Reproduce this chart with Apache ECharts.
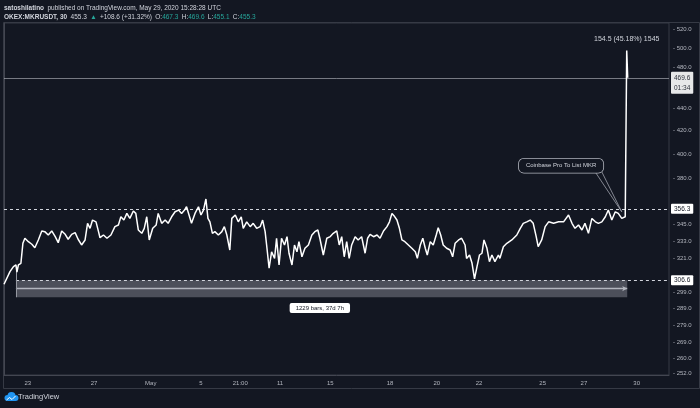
<!DOCTYPE html>
<html><head><meta charset="utf-8">
<script src="https://cdn.jsdelivr.net/npm/echarts/dist/echarts.min.js"></script>
<style>html,body{margin:0;padding:0;background:#131722;}#c{width:700px;height:408px;}</style>
</head><body><div id="c"></div>
<script>
// ---- data (30-minute bars, OKEX:MKRUSDT) ----
const barIndex = [0,12,19,24,26,29,34,38,42,49,56,62,69,76,82,89,96,103,109,116,123,129,136,143,149,156,163,168,173,178,185,190,193,200,207,215,223,230,235,241,247,253,260,265,270,277,282,287,292,299,306,310,317,324,330,337,344,351,357,363,367,372,377,384,391,396,401,406,410,414,419,424,431,438,443,448,454,458,465,471,477,481,488,495,501,508,515,520,525,528,533,538,544,548,553,558,564,569,573,579,584,589,593,599,605,612,619,625,631,635,642,649,656,662,669,674,679,684,689,694,699,706,712,719,726,731,736,743,750,756,763,770,775,780,784,790,795,800,806,813,820,827,831,837,842,847,851,857,863,869,873,878,883,890,897,902,907,914,920,927,930,936,941,946,951,956,961,965,971,976,981,987,994,997,1004,1011,1021,1031,1038,1044,1051,1058,1064,1070,1074,1081,1088,1095,1105,1115,1125,1135,1142,1148,1155,1162,1168,1175,1182,1189,1195,1202,1209,1215,1222,1229,1235,1242,1249,1252,1254];
const price = [304.0,312.2,315.5,316.6,311.9,316.6,317.7,331.4,334.9,332.5,330.7,328.3,333.7,340.1,339.6,337.2,340.1,336.0,331.8,340.1,337.7,334.2,337.7,338.9,334.2,330.2,333.7,345.6,342.0,348.0,346.7,339.6,335.3,337.2,334.9,337.2,343.2,344.4,350.4,348.0,352.9,349.2,354.7,352.9,340.8,338.4,342.0,350.4,333.7,342.0,344.4,352.9,345.6,348.0,345.6,350.4,354.1,355.4,352.9,355.4,357.9,351.7,345.6,352.9,357.9,351.7,355.4,363.8,349.2,346.7,338.4,339.6,337.2,339.6,343.2,337.2,326.7,349.2,351.7,346.7,350.4,342.0,346.7,343.2,345.6,342.0,343.2,348.0,339.6,330.2,314.4,325.5,321.0,334.9,316.6,334.9,330.2,336.0,324.5,316.6,330.2,325.5,332.5,322.1,327.9,330.2,337.2,339.6,340.8,334.9,323.3,334.9,336.1,338.4,340.1,330.2,336.0,322.1,332.5,321.0,330.2,336.0,333.7,336.0,324.5,334.9,337.7,336.0,337.2,334.9,340.1,343.2,346.7,352.9,351.2,348.0,342.0,333.7,332.5,330.2,327.9,325.5,321.0,330.2,334.9,327.9,323.3,332.5,330.2,337.2,342.4,337.2,330.2,327.9,326.7,322.1,331.4,333.7,334.9,330.2,321.0,323.3,317.7,307.4,315.5,323.3,324.5,333.7,327.9,318.8,323.3,318.8,323.3,321.0,329.0,331.4,333.7,337.2,342.0,345.6,346.7,348.0,345.6,336.0,329.0,333.7,343.2,346.7,345.6,346.7,346.7,351.7,345.6,342.0,344.4,340.8,345.6,338.4,349.2,346.7,345.6,346.7,350.4,355.4,348.0,354.1,352.9,349.2,350.4,497.3,469.6];

const xTickBars   = [48,181,295,396,475,555,656,776,870,955,1083,1166,1272];
const xTickLabels = ['23','27','May','5','21:00','11','15','18','20','22','25','27','30'];
const yTickValues = [520,500,480,440,420,400,380,345,333,321,299,289,279,269,260,252];

const yMin = 251.1, yMax = 527.0, xMax = 1337;
const levelTop = 356.3, levelBottom = 306.6, lastPrice = 469.6, lastTimer = '01:34';
const rangeStartBar = 24, rangeEndBar = 1253, rangeLow = 295.8, rangeMid = 301.2, rangeEdgeTop = 313.3;
const rangeLabel = '1229 bars, 37d 7h', rangeLabelBar = 635, rangeLabelPrice = 289.2;
const spikeBar = 1252, spikeHigh = 497.3, measureText = '154.5 (45.18%) 1545';
const calloutText = 'Coinbase Pro To List MKR', calloutBar = 1120, calloutPrice = 390.2;
const pointerFromA = [1189, 384.9], pointerFromB = [1199, 387.5], pointerTip = [1242, 354.1];

const headerLine1 = ['satoshilatino', 'published on TradingView.com, May 29, 2020 15:28:28 UTC'];
const headerSymbol = 'OKEX:MKRUSDT, 30';
const headerQuote = {last:'455.3', change:'+108.6 (+31.32%)', O:'467.3', H:'469.6', L:'455.1', C:'455.3'};

// ---- build ----
const L = Math.log;
const FONT = 'Liberation Sans, Arial, sans-serif';
const lineData = barIndex.map((b, i) => [b, L(price[i])]);
const boxLabel = {show:true, position:'end', distance:2, backgroundColor:'#ffffff', color:'#131722',
  fontSize:6.5, fontFamily:FONT, padding:[2,3,1,3], borderRadius:1};

const chart = echarts.init(document.getElementById('c'), null, {renderer:'canvas'});
chart.setOption({
  backgroundColor:'#131722',
  animation:false,
  textStyle:{fontFamily:FONT},
  grid:{left:4, right:31, top:23, bottom:33, show:true, borderColor:'#363a45', borderWidth:1, backgroundColor:'transparent'},
  xAxis:{
    type:'value', min:0, max:xMax,
    axisLine:{show:true, lineStyle:{color:'#434651'}},
    axisTick:{show:false},
    axisLabel:{show:true, customValues:xTickBars, color:'#b2b5be', fontSize:6, margin:5,
      formatter:(v)=>{const k = xTickBars.indexOf(Math.round(v)); return k>=0 ? xTickLabels[k] : '';}},
    splitLine:{show:false}
  },
  yAxis:{
    type:'value', position:'right', min:L(yMin), max:L(yMax),
    axisLine:{show:true, lineStyle:{color:'#434651'}},
    axisTick:{show:false},
    axisLabel:{show:true, customValues:yTickValues.map(L), color:'#b2b5be', fontSize:6, margin:4,
      formatter:(v)=>'- ' + Math.exp(v).toFixed(1)},
    splitLine:{show:false}
  },
  graphic:[
    {type:'text', left:4, top:2, style:{
      text:'{b|'+headerLine1[0]+'} {n|'+headerLine1[1]+'}',
      rich:{b:{fontWeight:'bold', fill:'#d1d4dc', fontSize:6.5, fontFamily:FONT},
            n:{fill:'#d1d4dc', fontSize:6.5, fontFamily:FONT}}}},
    {type:'text', left:4, top:11, style:{
      text:'{b|'+headerSymbol+'} {n|'+headerQuote.last+'} {g|▲} {n|'+headerQuote.change+'} {n|O:}{g|'+headerQuote.O+'} {n|H:}{g|'+headerQuote.H+'} {n|L:}{g|'+headerQuote.L+'} {n|C:}{g|'+headerQuote.C+'}',
      rich:{b:{fontWeight:'bold', fill:'#d1d4dc', fontSize:6.5, fontFamily:FONT},
            n:{fill:'#d1d4dc', fontSize:6.5, fontFamily:FONT},
            g:{fill:'#26a69a', fontSize:6.5, fontFamily:FONT}}}},
    {type:'rect', shape:{x:3.5, y:22.5, width:696, height:366}, style:{fill:'none', stroke:'#363a45', lineWidth:1}, silent:true},
    {type:'group', left:4, top:392, children:[
      {type:'circle', shape:{cx:4, cy:6, r:3}, style:{fill:'#2196f3'}},
      {type:'circle', shape:{cx:8, cy:4, r:4}, style:{fill:'#2196f3'}},
      {type:'circle', shape:{cx:12, cy:6, r:3}, style:{fill:'#2196f3'}},
      {type:'rect', shape:{x:4, y:5, width:8, height:4}, style:{fill:'#2196f3'}},
      {type:'polyline', shape:{points:[[3,8],[6,5.5],[8.5,7.5],[12,4]]}, style:{stroke:'#ffffff', lineWidth:1, fill:'none'}}
    ]},
    {type:'text', left:18, top:393, style:{text:'TradingView', fill:'#d1d4dc', fontSize:7.5, fontFamily:FONT}}
  ],
  series:[{
    type:'line', data:lineData, symbol:'none', showSymbol:false,
    lineStyle:{color:'#ffffff', width:1.5}, z:5,
    markArea:{silent:true, itemStyle:{color:'#4c4f5a'},
      data:[[{coord:[rangeStartBar, L(rangeLow)]},{coord:[rangeEndBar, L(levelBottom)]}]]},
    markLine:{
      silent:true, symbol:['none','none'], animation:false,
      data:[
        [{coord:[0, L(levelTop)], lineStyle:{color:'#d1d4dc', type:[3,3], width:1}, label:Object.assign({}, boxLabel, {formatter:levelTop.toFixed(1)})},
         {coord:[xMax, L(levelTop)]}],
        [{coord:[rangeStartBar, L(levelBottom)], lineStyle:{color:'#d1d4dc', type:[3,3], width:1}, label:Object.assign({}, boxLabel, {formatter:levelBottom.toFixed(1)})},
         {coord:[xMax, L(levelBottom)]}],
        [{coord:[0, L(lastPrice)], lineStyle:{color:'#b2b5be', type:'solid', width:0.7, opacity:0.9},
          label:Object.assign({}, boxLabel, {formatter:'{a|'+lastPrice.toFixed(1)+'}\n{b|'+lastTimer+'}', offset:[0,5],
            padding:[1,3,1,3], rich:{a:{fontSize:6.5, color:'#131722', lineHeight:10}, b:{fontSize:6.5, color:'#131722', lineHeight:10}}})},
         {coord:[xMax, L(lastPrice)]}],
        [{coord:[rangeStartBar, L(rangeMid)], lineStyle:{color:'#b2b5be', type:'solid', width:1.3}, label:{show:false}},
         {coord:[rangeEndBar, L(rangeMid)], symbol:'arrow', symbolSize:[4,5]}],
        [{coord:[rangeStartBar, L(rangeEdgeTop)], lineStyle:{color:'#9598a1', type:'solid', width:1}, label:{show:false}},
         {coord:[rangeStartBar, L(rangeLow)]}],
        [{coord:[pointerFromA[0], L(pointerFromA[1])], lineStyle:{color:'#b2b5be', type:'solid', width:0.7}, label:{show:false}},
         {coord:[pointerTip[0], L(pointerTip[1])]}],
        [{coord:[pointerFromB[0], L(pointerFromB[1])], lineStyle:{color:'#b2b5be', type:'solid', width:0.7}, label:{show:false}},
         {coord:[pointerTip[0], L(pointerTip[1])]}]
      ]
    },
    markPoint:{
      silent:true, symbol:'circle', symbolSize:0, animation:false,
      data:[
        {coord:[spikeBar, L(spikeHigh)], label:{show:true, position:'top', distance:8, formatter:measureText, color:'#d1d4dc', fontSize:7, fontFamily:FONT}},
        {coord:[calloutBar, L(calloutPrice)], label:{show:true, position:'inside', formatter:calloutText, color:'#d1d4dc', fontSize:6, fontFamily:FONT,
          backgroundColor:'#131722', borderColor:'#b2b5be', borderWidth:0.8, borderRadius:5, padding:[4,7,4,7]}},
        {coord:[rangeLabelBar, L(rangeLabelPrice)], label:{show:true, position:'inside', formatter:rangeLabel, color:'#131722', fontSize:6, fontFamily:FONT,
          backgroundColor:'#ffffff', borderRadius:2, padding:[2,6,2,6]}}
      ]
    }
  }]
});
</script>
</body></html>
